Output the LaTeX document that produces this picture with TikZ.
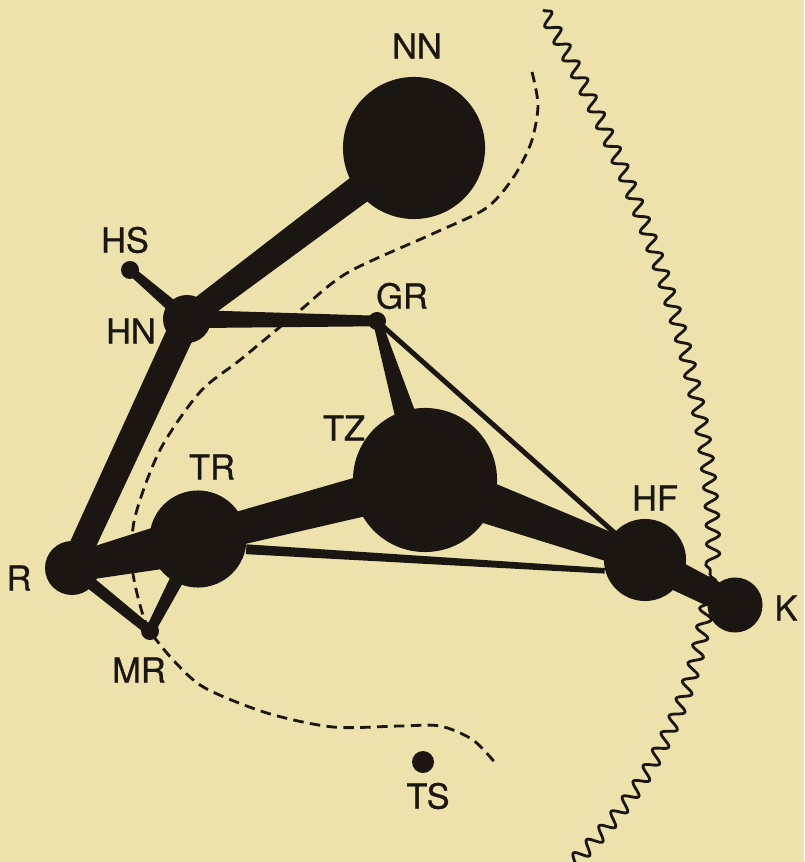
\documentclass[tikz,border=0pt]{standalone}
\usepackage{fontspec}
\setmainfont{TeX Gyre Heros}
\newfontfamily\lblfont{TeX Gyre Heros}[FakeBold=0.8]
\usepackage{tikz}
\usetikzlibrary{positioning, calc, decorations.pathmorphing}
\definecolor{paper}{RGB}{237,226,172}
\definecolor{ink}{RGB}{28,22,18}
\tikzset{
    spot/.style={circle, fill=ink, inner sep=0pt},
    lbl/.style={font=\lblfont\fontsize{9.8}{10}\selectfont, text=ink, inner sep=0pt},
    bar/.style 2 args={fill=ink, to path={($(\tikztostart)!#1!90:(\tikztotarget)$) -- ($(\tikztostart)!#1!-90:(\tikztotarget)$) -- ($(\tikztotarget)!#2!90:(\tikztostart)$) -- ($(\tikztotarget)!#2!-90:(\tikztostart)$) -- cycle}},
    border/.style={draw=ink, line width=0.8pt, dash pattern=on 3pt off 1.8pt},
    front/.style={draw=ink, line width=0.8pt, decorate, decoration={snake, amplitude=1.9pt, segment length=5.4pt}},
}

\begin{document}
\begin{tikzpicture}[x=0.01cm, y=-0.01cm]
    \useasboundingbox (0,0) rectangle (804,862);
    \fill[paper] (0,0) rectangle (804,862);
    % zig-zag front on the right
    \coordinate (f1) at (543,10);
    \coordinate (f2) at (710,575);
    \coordinate (f3) at (560,870);
    \draw[front] (f1) .. controls (640,180) and (720,400) .. (f2);
    \draw[front] (f2) .. controls (700,700) and (640,800) .. (f3);
    % dashed boundary
    \draw[border] plot[smooth] coordinates {(532,72) (538,105) (532,140) (518,170) (500,195) (480,212) (430,235) (347,273) (297,313) (240,360) (200,392) (160,450) (135,517) (132,565) (140,605) (150,631) (175,662) (205,688) (267,713) (333,727) (400,726) (440,726) (473,740) (497,765)};
    % places
    \node[spot, minimum size=1.42cm] (NN) at (414,148) {};
    \node[spot, minimum size=0.18cm] (HS) at (130,270) {};
    \node[spot, minimum size=0.48cm] (HN) at (187,319) {};
    \node[spot, minimum size=0.18cm] (GR) at (377,321) {};
    \node[spot, minimum size=1.44cm] (TZ) at (425,480) {};
    \node[spot, minimum size=0.97cm] (TR) at (198,539) {};
    \node[spot, minimum size=0.54cm] (R)  at (72,568)  {};
    \node[spot, minimum size=0.18cm] (MR) at (150,631) {};
    \node[spot, minimum size=0.82cm] (HF) at (645,560) {};
    \node[spot, minimum size=0.55cm] (K)  at (735,605) {};
    \node[spot, minimum size=0.22cm] (TS) at (423,762) {};
    % links
    \path[bar={4.4pt}{3.4pt}] (NN) to (HN);
    \path[bar={1.2pt}{1.9pt}] (HS) to (HN);
    \path[bar={2.6pt}{1.5pt}] (HN) to (GR);
    \path[bar={4pt}{3.6pt}]   (HN) to (R);
    \path[bar={1.2pt}{4.2pt}] (GR) to (TZ);
    \path[bar={0.7pt}{0.7pt}] (GR) to (HF);
    \path[bar={4.4pt}{6.2pt}] (TR) to (TZ);
    \path[bar={6.8pt}{3.6pt}] (TZ) to (HF);
    \path[bar={4pt}{7pt}]     (R)  to (TR);
    \path[bar={1.4pt}{0.8pt}] (TR.-12) to (HF.195);
    \path[bar={1.8pt}{1.4pt}] (R)  to (MR);
    \path[bar={2.4pt}{1.4pt}] (TR) to (MR);
    \path[bar={4.4pt}{3.6pt}] (HF) to (K);
    % names
    \node[lbl] (NNl) at (417,46)  {NN};
    \node[lbl] (HSl) at (125,240) {HS};
    \node[lbl] (HNl) at (131,331) {HN};
    \node[lbl] (GRl) at (402,296) {GR};
    \node[lbl] (TZl) at (344,428) {TZ};
    \node[lbl] (TRl) at (212,467) {TR};
    \node[lbl] (Rl)  at (19,578)  {R};
    \node[lbl] (MRl) at (139,670) {MR};
    \node[lbl] (HFl) at (655,498) {HF};
    \node[lbl] (Kl)  at (786,608) {K};
    \node[lbl] (TSl) at (428,796) {TS};
\end{tikzpicture}
\end{document}
